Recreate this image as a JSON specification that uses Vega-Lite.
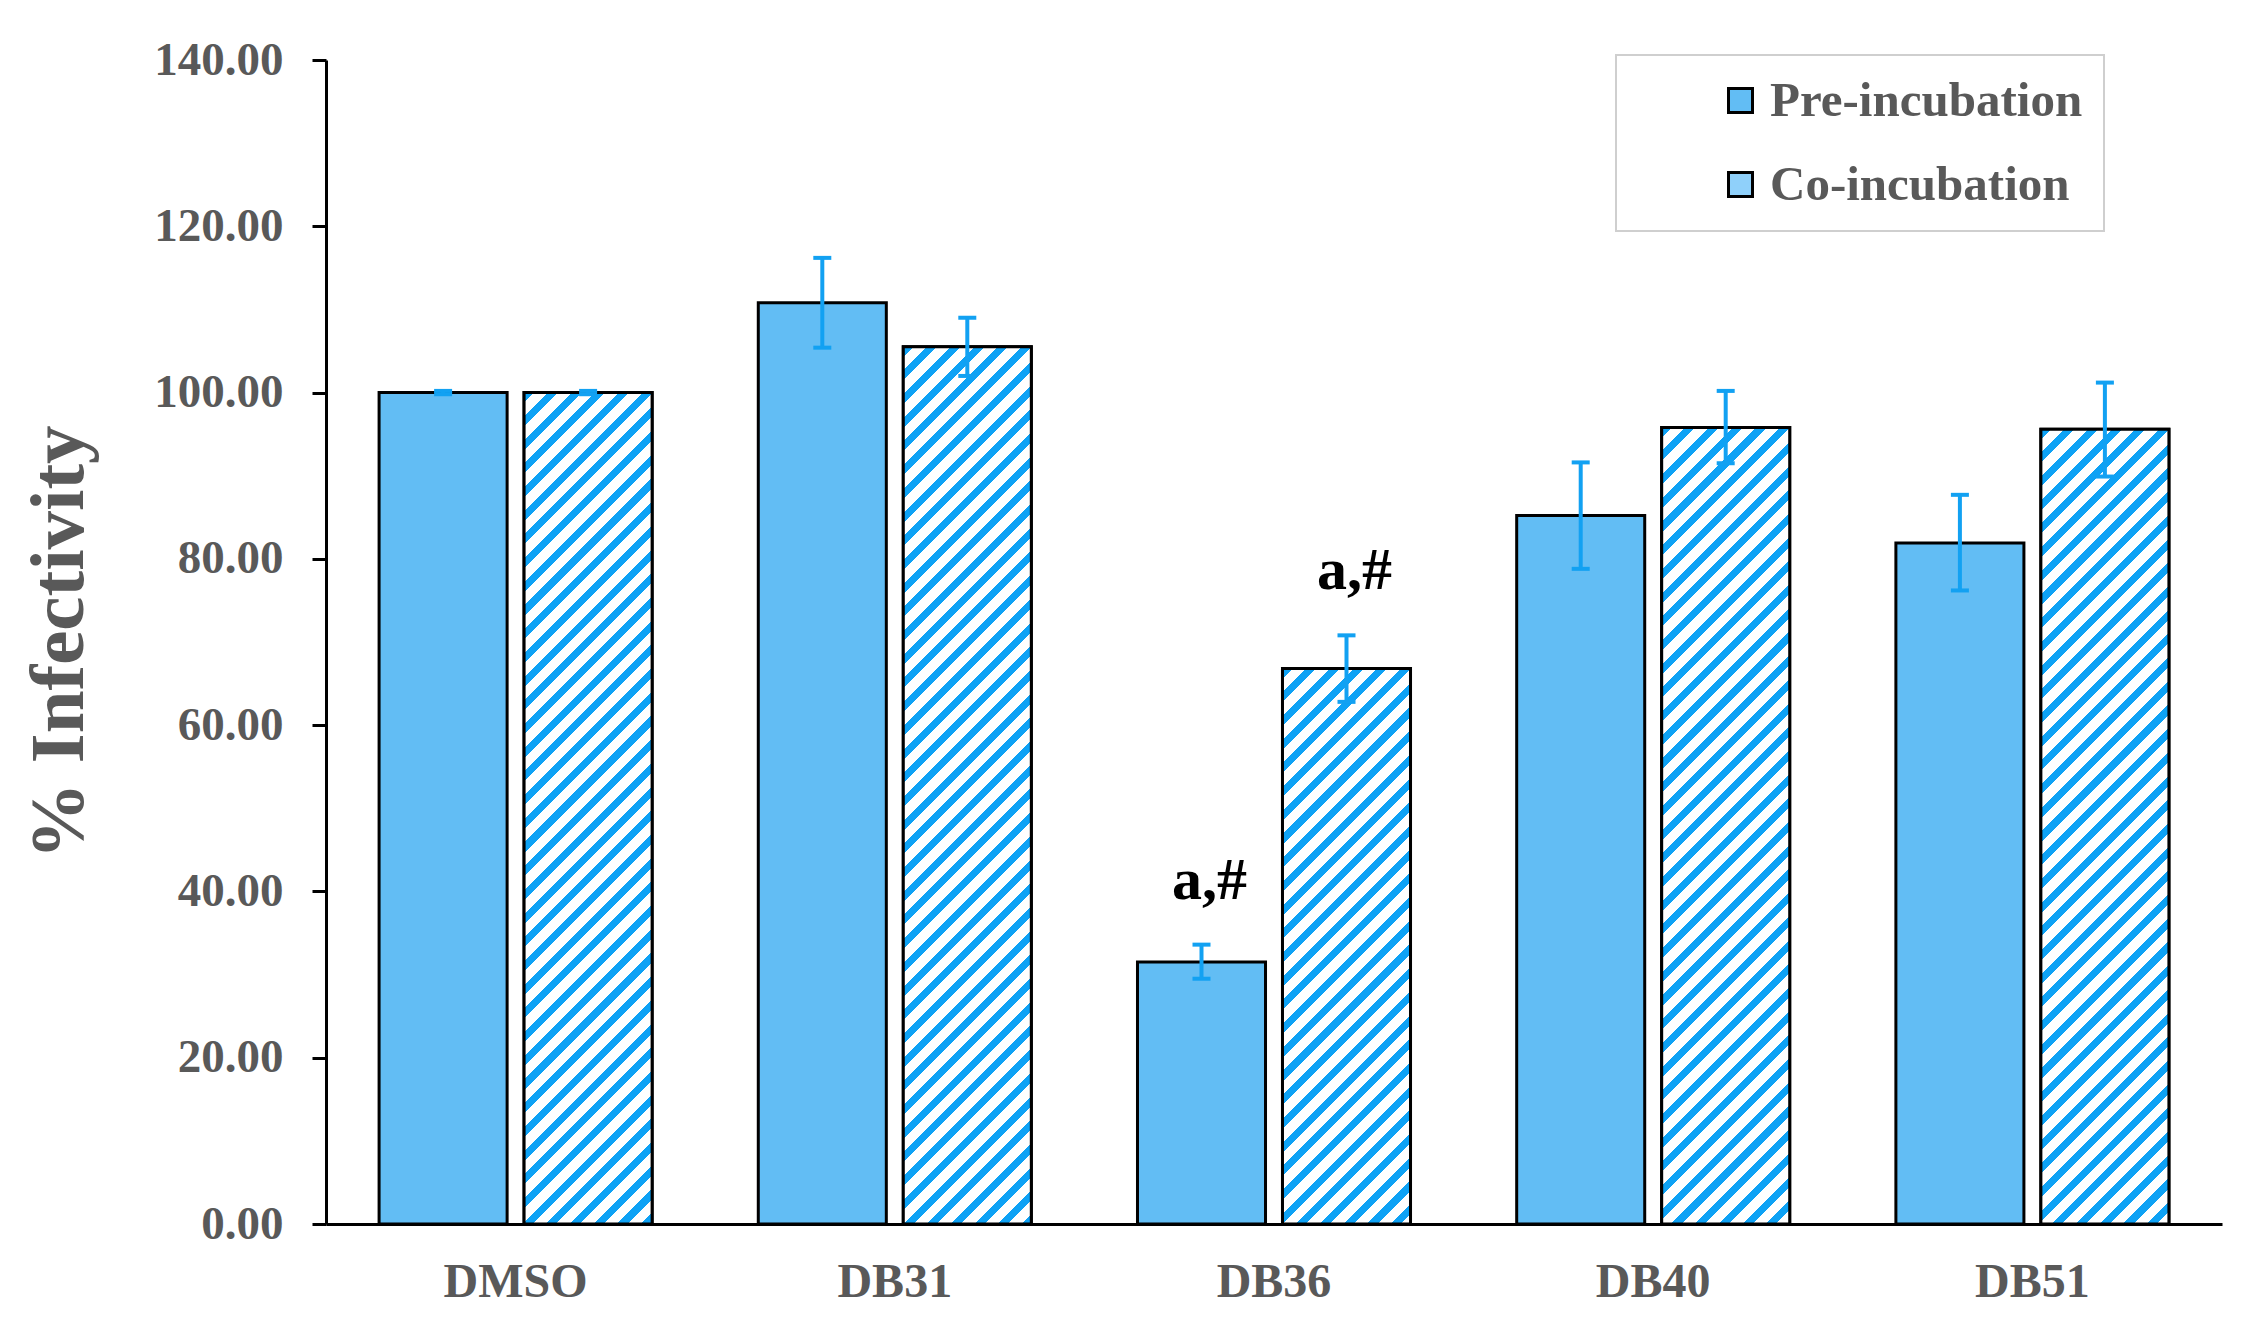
{
  "$schema": "https://vega.github.io/schema/vega-lite/v6.json",
  "width": 1896,
  "height": 1164,
  "autosize": {"type": "none"},
  "padding": {"left": 326, "top": 60, "right": 34, "bottom": 106},
  "background": "white",
  "params": [
    {
      "name": "hatch",
      "value": [
        {"offset": 0, "color": "#0ea2f5"}, {"offset": 0.0085, "color": "#0ea2f5"}, {"offset": 0.0085, "color": "#fff"}, {"offset": 0.02, "color": "#fff"},
        {"offset": 0.02, "color": "#0ea2f5"}, {"offset": 0.0285, "color": "#0ea2f5"}, {"offset": 0.0285, "color": "#fff"}, {"offset": 0.04, "color": "#fff"},
        {"offset": 0.04, "color": "#0ea2f5"}, {"offset": 0.0485, "color": "#0ea2f5"}, {"offset": 0.0485, "color": "#fff"}, {"offset": 0.06, "color": "#fff"},
        {"offset": 0.06, "color": "#0ea2f5"}, {"offset": 0.0685, "color": "#0ea2f5"}, {"offset": 0.0685, "color": "#fff"}, {"offset": 0.08, "color": "#fff"},
        {"offset": 0.08, "color": "#0ea2f5"}, {"offset": 0.0885, "color": "#0ea2f5"}, {"offset": 0.0885, "color": "#fff"}, {"offset": 0.1, "color": "#fff"},
        {"offset": 0.1, "color": "#0ea2f5"}, {"offset": 0.1085, "color": "#0ea2f5"}, {"offset": 0.1085, "color": "#fff"}, {"offset": 0.12, "color": "#fff"},
        {"offset": 0.12, "color": "#0ea2f5"}, {"offset": 0.1285, "color": "#0ea2f5"}, {"offset": 0.1285, "color": "#fff"}, {"offset": 0.14, "color": "#fff"},
        {"offset": 0.14, "color": "#0ea2f5"}, {"offset": 0.1485, "color": "#0ea2f5"}, {"offset": 0.1485, "color": "#fff"}, {"offset": 0.16, "color": "#fff"},
        {"offset": 0.16, "color": "#0ea2f5"}, {"offset": 0.1685, "color": "#0ea2f5"}, {"offset": 0.1685, "color": "#fff"}, {"offset": 0.18, "color": "#fff"},
        {"offset": 0.18, "color": "#0ea2f5"}, {"offset": 0.1885, "color": "#0ea2f5"}, {"offset": 0.1885, "color": "#fff"}, {"offset": 0.2, "color": "#fff"},
        {"offset": 0.2, "color": "#0ea2f5"}, {"offset": 0.2085, "color": "#0ea2f5"}, {"offset": 0.2085, "color": "#fff"}, {"offset": 0.22, "color": "#fff"},
        {"offset": 0.22, "color": "#0ea2f5"}, {"offset": 0.2285, "color": "#0ea2f5"}, {"offset": 0.2285, "color": "#fff"}, {"offset": 0.24, "color": "#fff"},
        {"offset": 0.24, "color": "#0ea2f5"}, {"offset": 0.2485, "color": "#0ea2f5"}, {"offset": 0.2485, "color": "#fff"}, {"offset": 0.26, "color": "#fff"},
        {"offset": 0.26, "color": "#0ea2f5"}, {"offset": 0.2685, "color": "#0ea2f5"}, {"offset": 0.2685, "color": "#fff"}, {"offset": 0.28, "color": "#fff"},
        {"offset": 0.28, "color": "#0ea2f5"}, {"offset": 0.2885, "color": "#0ea2f5"}, {"offset": 0.2885, "color": "#fff"}, {"offset": 0.3, "color": "#fff"},
        {"offset": 0.3, "color": "#0ea2f5"}, {"offset": 0.3085, "color": "#0ea2f5"}, {"offset": 0.3085, "color": "#fff"}, {"offset": 0.32, "color": "#fff"},
        {"offset": 0.32, "color": "#0ea2f5"}, {"offset": 0.3285, "color": "#0ea2f5"}, {"offset": 0.3285, "color": "#fff"}, {"offset": 0.34, "color": "#fff"},
        {"offset": 0.34, "color": "#0ea2f5"}, {"offset": 0.3485, "color": "#0ea2f5"}, {"offset": 0.3485, "color": "#fff"}, {"offset": 0.36, "color": "#fff"},
        {"offset": 0.36, "color": "#0ea2f5"}, {"offset": 0.3685, "color": "#0ea2f5"}, {"offset": 0.3685, "color": "#fff"}, {"offset": 0.38, "color": "#fff"},
        {"offset": 0.38, "color": "#0ea2f5"}, {"offset": 0.3885, "color": "#0ea2f5"}, {"offset": 0.3885, "color": "#fff"}, {"offset": 0.4, "color": "#fff"},
        {"offset": 0.4, "color": "#0ea2f5"}, {"offset": 0.4085, "color": "#0ea2f5"}, {"offset": 0.4085, "color": "#fff"}, {"offset": 0.42, "color": "#fff"},
        {"offset": 0.42, "color": "#0ea2f5"}, {"offset": 0.4285, "color": "#0ea2f5"}, {"offset": 0.4285, "color": "#fff"}, {"offset": 0.44, "color": "#fff"},
        {"offset": 0.44, "color": "#0ea2f5"}, {"offset": 0.4485, "color": "#0ea2f5"}, {"offset": 0.4485, "color": "#fff"}, {"offset": 0.46, "color": "#fff"},
        {"offset": 0.46, "color": "#0ea2f5"}, {"offset": 0.4685, "color": "#0ea2f5"}, {"offset": 0.4685, "color": "#fff"}, {"offset": 0.48, "color": "#fff"},
        {"offset": 0.48, "color": "#0ea2f5"}, {"offset": 0.4885, "color": "#0ea2f5"}, {"offset": 0.4885, "color": "#fff"}, {"offset": 0.5, "color": "#fff"},
        {"offset": 0.5, "color": "#0ea2f5"}, {"offset": 0.5085, "color": "#0ea2f5"}, {"offset": 0.5085, "color": "#fff"}, {"offset": 0.52, "color": "#fff"},
        {"offset": 0.52, "color": "#0ea2f5"}, {"offset": 0.5285, "color": "#0ea2f5"}, {"offset": 0.5285, "color": "#fff"}, {"offset": 0.54, "color": "#fff"},
        {"offset": 0.54, "color": "#0ea2f5"}, {"offset": 0.5485, "color": "#0ea2f5"}, {"offset": 0.5485, "color": "#fff"}, {"offset": 0.56, "color": "#fff"},
        {"offset": 0.56, "color": "#0ea2f5"}, {"offset": 0.5685, "color": "#0ea2f5"}, {"offset": 0.5685, "color": "#fff"}, {"offset": 0.58, "color": "#fff"},
        {"offset": 0.58, "color": "#0ea2f5"}, {"offset": 0.5885, "color": "#0ea2f5"}, {"offset": 0.5885, "color": "#fff"}, {"offset": 0.6, "color": "#fff"},
        {"offset": 0.6, "color": "#0ea2f5"}, {"offset": 0.6085, "color": "#0ea2f5"}, {"offset": 0.6085, "color": "#fff"}, {"offset": 0.62, "color": "#fff"},
        {"offset": 0.62, "color": "#0ea2f5"}, {"offset": 0.6285, "color": "#0ea2f5"}, {"offset": 0.6285, "color": "#fff"}, {"offset": 0.64, "color": "#fff"},
        {"offset": 0.64, "color": "#0ea2f5"}, {"offset": 0.6485, "color": "#0ea2f5"}, {"offset": 0.6485, "color": "#fff"}, {"offset": 0.66, "color": "#fff"},
        {"offset": 0.66, "color": "#0ea2f5"}, {"offset": 0.6685, "color": "#0ea2f5"}, {"offset": 0.6685, "color": "#fff"}, {"offset": 0.68, "color": "#fff"},
        {"offset": 0.68, "color": "#0ea2f5"}, {"offset": 0.6885, "color": "#0ea2f5"}, {"offset": 0.6885, "color": "#fff"}, {"offset": 0.7, "color": "#fff"},
        {"offset": 0.7, "color": "#0ea2f5"}, {"offset": 0.7085, "color": "#0ea2f5"}, {"offset": 0.7085, "color": "#fff"}, {"offset": 0.72, "color": "#fff"},
        {"offset": 0.72, "color": "#0ea2f5"}, {"offset": 0.7285, "color": "#0ea2f5"}, {"offset": 0.7285, "color": "#fff"}, {"offset": 0.74, "color": "#fff"},
        {"offset": 0.74, "color": "#0ea2f5"}, {"offset": 0.7485, "color": "#0ea2f5"}, {"offset": 0.7485, "color": "#fff"}, {"offset": 0.76, "color": "#fff"},
        {"offset": 0.76, "color": "#0ea2f5"}, {"offset": 0.7685, "color": "#0ea2f5"}, {"offset": 0.7685, "color": "#fff"}, {"offset": 0.78, "color": "#fff"},
        {"offset": 0.78, "color": "#0ea2f5"}, {"offset": 0.7885, "color": "#0ea2f5"}, {"offset": 0.7885, "color": "#fff"}, {"offset": 0.8, "color": "#fff"},
        {"offset": 0.8, "color": "#0ea2f5"}, {"offset": 0.8085, "color": "#0ea2f5"}, {"offset": 0.8085, "color": "#fff"}, {"offset": 0.82, "color": "#fff"},
        {"offset": 0.82, "color": "#0ea2f5"}, {"offset": 0.8285, "color": "#0ea2f5"}, {"offset": 0.8285, "color": "#fff"}, {"offset": 0.84, "color": "#fff"},
        {"offset": 0.84, "color": "#0ea2f5"}, {"offset": 0.8485, "color": "#0ea2f5"}, {"offset": 0.8485, "color": "#fff"}, {"offset": 0.86, "color": "#fff"},
        {"offset": 0.86, "color": "#0ea2f5"}, {"offset": 0.8685, "color": "#0ea2f5"}, {"offset": 0.8685, "color": "#fff"}, {"offset": 0.88, "color": "#fff"},
        {"offset": 0.88, "color": "#0ea2f5"}, {"offset": 0.8885, "color": "#0ea2f5"}, {"offset": 0.8885, "color": "#fff"}, {"offset": 0.9, "color": "#fff"},
        {"offset": 0.9, "color": "#0ea2f5"}, {"offset": 0.9085, "color": "#0ea2f5"}, {"offset": 0.9085, "color": "#fff"}, {"offset": 0.92, "color": "#fff"},
        {"offset": 0.92, "color": "#0ea2f5"}, {"offset": 0.9285, "color": "#0ea2f5"}, {"offset": 0.9285, "color": "#fff"}, {"offset": 0.94, "color": "#fff"},
        {"offset": 0.94, "color": "#0ea2f5"}, {"offset": 0.9485, "color": "#0ea2f5"}, {"offset": 0.9485, "color": "#fff"}, {"offset": 0.96, "color": "#fff"},
        {"offset": 0.96, "color": "#0ea2f5"}, {"offset": 0.9685, "color": "#0ea2f5"}, {"offset": 0.9685, "color": "#fff"}, {"offset": 0.98, "color": "#fff"},
        {"offset": 0.98, "color": "#0ea2f5"}, {"offset": 0.9885, "color": "#0ea2f5"}, {"offset": 0.9885, "color": "#fff"}, {"offset": 1, "color": "#fff"}
      ]
    }
  ],
  "data": {
    "values": [
      {"compound": "DMSO", "method": "Pre-incubation", "mean": 100.0, "lo": 99.8, "hi": 100.2, "sig": ""},
      {"compound": "DB31", "method": "Pre-incubation", "mean": 110.8, "lo": 105.4, "hi": 116.2, "sig": ""},
      {"compound": "DB36", "method": "Pre-incubation", "mean": 31.5, "lo": 29.5, "hi": 33.6, "sig": "a,#"},
      {"compound": "DB40", "method": "Pre-incubation", "mean": 85.2, "lo": 78.8, "hi": 91.6, "sig": ""},
      {"compound": "DB51", "method": "Pre-incubation", "mean": 81.9, "lo": 76.2, "hi": 87.7, "sig": ""},
      {"compound": "DMSO", "method": "Co-incubation", "mean": 100.0, "lo": 99.8, "hi": 100.2, "sig": ""},
      {"compound": "DB31", "method": "Co-incubation", "mean": 105.5, "lo": 102.0, "hi": 109.0, "sig": ""},
      {"compound": "DB36", "method": "Co-incubation", "mean": 66.8, "lo": 62.8, "hi": 70.8, "sig": "a,#"},
      {"compound": "DB40", "method": "Co-incubation", "mean": 95.8, "lo": 91.5, "hi": 100.2, "sig": ""},
      {"compound": "DB51", "method": "Co-incubation", "mean": 95.6, "lo": 89.9, "hi": 101.2, "sig": ""}
    ]
  },
  "encoding": {
    "x": {
      "field": "compound",
      "type": "nominal",
      "sort": ["DMSO", "DB31", "DB36", "DB40", "DB51"],
      "scale": {"paddingInner": 0.28, "paddingOuter": 0.14},
      "axis": {
        "title": null,
        "labelAngle": 0,
        "ticks": false,
        "tickSize": 0,
        "labelPadding": 34,
        "labelFont": "Liberation Serif",
        "labelFontWeight": "bold",
        "labelFontSize": 48,
        "labelColor": "#595959",
        "domainColor": "black",
        "domainWidth": 3
      }
    },
    "xOffset": {
      "field": "method",
      "type": "nominal",
      "scale": {"domain": ["Pre-incubation", "Co-incubation"], "paddingInner": 0.117, "paddingOuter": 0}
    }
  },
  "layer": [
    {
      "mark": {"type": "bar", "stroke": "black", "strokeWidth": 3, "opacity": 1},
      "encoding": {
        "y": {
          "field": "mean",
          "type": "quantitative",
          "title": "% Infectivity",
          "scale": {"domain": [0, 140], "nice": false},
          "axis": {
            "values": [0, 20, 40, 60, 80, 100, 120, 140],
            "format": ".2f",
            "labelFont": "Liberation Serif",
            "labelFontWeight": "bold",
            "labelFontSize": 47,
            "labelColor": "#595959",
            "labelPadding": 29,
            "tickSize": 14,
            "tickWidth": 3,
            "tickColor": "black",
            "domainColor": "black",
            "domainWidth": 3,
            "grid": false,
            "titleFont": "Liberation Serif",
            "titleFontWeight": "bold",
            "titleFontSize": 77,
            "titleColor": "#595959",
            "titlePadding": 55
          }
        },
        "fill": {
          "field": "method",
          "type": "nominal",
          "scale": {"domain": ["Pre-incubation", "Co-incubation"], "range": ["#62bdf4", "#8fd0fa"]},
          "legend": {
            "title": null,
            "orient": "none",
            "legendX": 1290,
            "legendY": -5,
            "direction": "vertical",
            "strokeColor": "#cfcfcf",
            "padding": 21,
            "symbolType": "square",
            "symbolSize": 576,
            "symbolStrokeColor": "black",
            "symbolStrokeWidth": 3,
            "symbolOpacity": 1,
            "symbolOffset": 79,
            "labelFont": "Liberation Serif",
            "labelFontWeight": "bold",
            "labelFontSize": 49,
            "labelColor": "#595959",
            "labelOffset": 5,
            "labelLimit": 900,
            "rowPadding": 34,
            "encode": {
              "legend": {"update": {"strokeWidth": {"value": 2}, "width": {"value": 561}}},
              "symbols": {
                "update": {
                  "stroke": {"value": "black"},
                  "strokeWidth": {"value": 3},
                  "opacity": {"value": 1},
                  "fill": {"signal": "datum.value == 'Co-incubation' ? {gradient: 'linear', x1: 0, y1: 0, x2: 1, y2: 1, stops: [{offset: 0, color: '#fff'}, {offset: 0.3, color: '#fff'}, {offset: 0.3, color: '#0ea2f5'}, {offset: 0.55, color: '#0ea2f5'}, {offset: 0.55, color: '#fff'}, {offset: 0.82, color: '#fff'}, {offset: 0.82, color: '#0ea2f5'}, {offset: 1, color: '#0ea2f5'}]} : '#62bdf4'"}
                }
              }
            }
          }
        }
      }
    },
    {
      "transform": [{"filter": "datum.method == 'Co-incubation'"}],
      "mark": {"type": "bar", "stroke": "black", "strokeWidth": 3, "opacity": 1},
      "encoding": {
        "y": {"field": "mean", "type": "quantitative", "title": "% Infectivity"},
        "fill": {
          "value": {
            "expr": "{gradient: 'linear', x1: 0, y1: 0, x2: 1185 * bandwidth('xOffset') / (pow(bandwidth('xOffset'), 2) + pow(scale('y', 0) - scale('y', datum.mean), 2)), y2: 1185 * (scale('y', 0) - scale('y', datum.mean)) / (pow(bandwidth('xOffset'), 2) + pow(scale('y', 0) - scale('y', datum.mean), 2)), stops: hatch}"
          }
        }
      }
    },
    {
      "mark": {"type": "rule", "color": "#12a1f2", "strokeWidth": 4},
      "encoding": {
        "y": {"field": "lo", "type": "quantitative", "title": "% Infectivity"},
        "y2": {"field": "hi"}
      }
    },
    {
      "mark": {"type": "tick", "color": "#12a1f2", "thickness": 4, "size": 18, "opacity": 1},
      "encoding": {
        "y": {"field": "hi", "type": "quantitative", "title": "% Infectivity"}
      }
    },
    {
      "mark": {"type": "tick", "color": "#12a1f2", "thickness": 4, "size": 18, "opacity": 1},
      "encoding": {
        "y": {"field": "lo", "type": "quantitative", "title": "% Infectivity"}
      }
    },
    {
      "transform": [{"filter": "datum.sig != ''"}],
      "mark": {
        "type": "text",
        "font": "Liberation Serif",
        "fontWeight": "bold",
        "fontSize": 60,
        "color": "black",
        "baseline": "alphabetic",
        "align": "center",
        "dy": -46,
        "dx": 8
      },
      "encoding": {
        "y": {"field": "hi", "type": "quantitative", "title": "% Infectivity"},
        "text": {"field": "sig"}
      }
    }
  ],
  "config": {
    "view": {"stroke": null},
    "font": "Liberation Serif"
  }
}
